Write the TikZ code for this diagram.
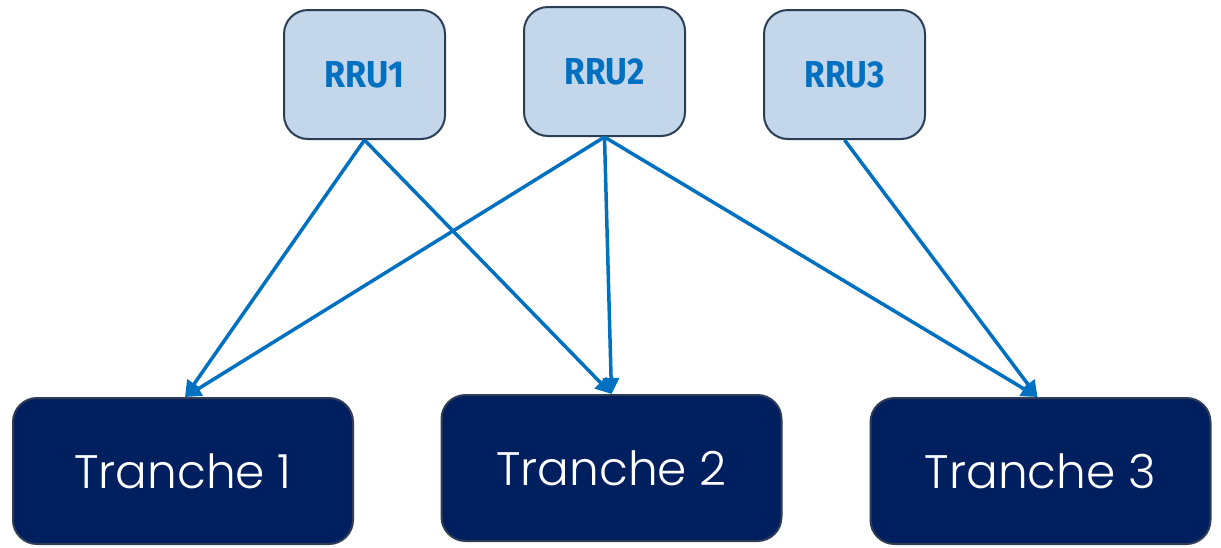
\documentclass[tikz,border=0pt]{standalone}
\usepackage{fontspec}
\setmainfont{Poppins}[UprightFont=* Light]
\newfontfamily\rrufont{Fira Sans}
\usetikzlibrary{arrows.meta}
\definecolor{rrufill}{HTML}{C3D6EA}
\definecolor{rruline}{HTML}{2C3E55}
\definecolor{rrutext}{HTML}{0070C0}
\definecolor{trfill}{HTML}{001F5F}
\definecolor{trline}{HTML}{2F3E55}
\definecolor{arr}{HTML}{0070C0}
\newcommand{\rrulabel}[1]{\resizebox{80pt}{26pt}{#1}}
\tikzset{
  rrubox/.style={draw=rruline, fill=rrufill, line width=2pt, rounded corners=24pt,
    minimum width=161pt, minimum height=129pt, inner sep=0pt,
    font=\rrufont\bfseries\fontsize{35}{40}\selectfont, text=rrutext},
  trbox/.style={draw=trline, fill=trfill, line width=2pt, rounded corners=24pt,
    minimum width=340pt, minimum height=146pt, inner sep=0pt,
    font=\fontsize{47}{54}\selectfont, text=white},
  link/.style={draw=arr, line width=3.5pt, -{Triangle[length=16pt,width=16pt]}}
}
\begin{document}
\begin{tikzpicture}[x=1pt,y=1pt]
\useasboundingbox (0,0) rectangle (1221,-547);
\node[rrubox] (r1) at (364.5,-74.5) {\rrulabel{RRU1}};
\node[rrubox] (r2) at (604.5,-71.5) {\rrulabel{RRU2}};
\node[rrubox] (r3) at (844.5,-74.5) {\rrulabel{RRU3}};
\node[trbox] (t1) at (183,-471) {Tranche 1};
\node[trbox] (t2) at (611.5,-468) {Tranche 2};
\node[trbox] (t3) at (1040.5,-471) {Tranche 3};
\draw[link] (r1.south) -- ([xshift=2pt]t1.north);
\draw[link] (r1.south) -- (t2.north);
\draw[link] (r2.south) -- ([xshift=2pt]t1.north);
\draw[link] (r2.south) -- (t2.north);
\draw[link] (r2.south) -- ([xshift=-3pt]t3.north);
\draw[link] (r3.south) -- ([xshift=-3pt]t3.north);
\end{tikzpicture}
\end{document}
